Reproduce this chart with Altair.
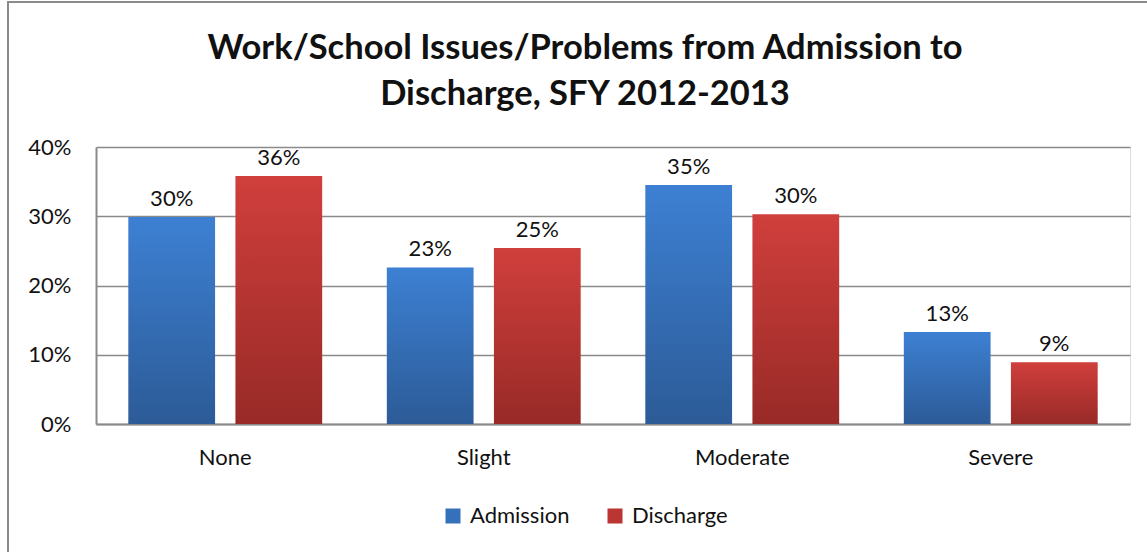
import altair as alt
import pandas as pd

categories = ["None", "Slight", "Moderate", "Severe"]
series = ["Admission", "Discharge"]
admission = [0.299, 0.226, 0.345, 0.133]
discharge = [0.358, 0.254, 0.303, 0.089]

rows = []
for c, a, d in zip(categories, admission, discharge):
    rows.append({"cat": c, "series": "Admission", "value": a})
    rows.append({"cat": c, "series": "Discharge", "value": d})
df = pd.DataFrame(rows)

FONT = "Lato"
GRAY = "#8a8a8a"
FS = 22

blue_grad = alt.LinearGradient(
    gradient="linear", x1=0, x2=0, y1=0, y2=1,
    stops=[alt.GradientStop(color="#3d80d3", offset=0),
           alt.GradientStop(color="#2c5b97", offset=1)])
red_grad = alt.LinearGradient(
    gradient="linear", x1=0, x2=0, y1=0, y2=1,
    stops=[alt.GradientStop(color="#d03f3c", offset=0),
           alt.GradientStop(color="#982a27", offset=1)])

x_enc = alt.X("cat:N", sort=categories, title=None,
              scale=alt.Scale(paddingInner=0.25, paddingOuter=0.125),
              axis=alt.Axis(labelAngle=0, labelFontSize=FS, labelFont=FONT,
                            labelColor="#111", labelPadding=23, ticks=False,
                            domainColor=GRAY, domainWidth=2))
xo_enc = alt.XOffset("series:N", scale=alt.Scale(domain=series, paddingInner=0.19, paddingOuter=0))
y_enc = alt.Y("value:Q", title=None,
              scale=alt.Scale(domain=[0, 0.4], nice=False),
              axis=alt.Axis(format=".0%", values=[0, 0.1, 0.2, 0.3, 0.4],
                            labelFontSize=FS, labelFont=FONT, labelColor="#111",
                            labelPadding=25, ticks=False, grid=True,
                            gridColor=GRAY, gridWidth=1.5,
                            domainColor=GRAY, domainWidth=2))

base = alt.Chart(df)

bars_a = base.transform_filter(alt.datum.series == "Admission").mark_bar(fill=blue_grad).encode(
    x=x_enc, xOffset=xo_enc, y=y_enc)
bars_d = base.transform_filter(alt.datum.series == "Discharge").mark_bar(fill=red_grad).encode(
    x=x_enc, xOffset=xo_enc, y=y_enc)

labels = base.mark_text(dy=-18, fontSize=FS, font=FONT, color="#111").encode(
    x=x_enc, xOffset=xo_enc, y=y_enc,
    text=alt.Text("value:Q", format=".0%"))

legend_layer = base.mark_square(opacity=0).encode(
    x=x_enc, xOffset=xo_enc, y=y_enc,
    color=alt.Color("series:N", sort=series,
                    scale=alt.Scale(domain=series, range=["#3570ba", "#bb3532"]),
                    legend=alt.Legend(title=None, orient="none", direction="horizontal",
                                      legendX=346, legendY=358, symbolType="square",
                                      symbolSize=225, symbolOpacity=1, symbolStrokeWidth=0,
                                      labelFontSize=FS, labelFont=FONT, labelColor="#111",
                                      labelOffset=6, columnPadding=34, padding=0)))

one = alt.Chart(pd.DataFrame({"k": [0]}))
border_left = one.mark_rule(stroke=GRAY, strokeWidth=2).encode(
    x=alt.value(-88), y=alt.value(-145), y2=alt.value(600))
border_top = one.mark_rule(stroke=GRAY, strokeWidth=2).encode(
    x=alt.value(-89), x2=alt.value(1200), y=alt.value(-145))

chart = alt.layer(border_left, border_top, bars_a, bars_d, labels, legend_layer).properties(
    width=1034, height=277,
    title=alt.TitleParams(
        text=["Work/School Issues/Problems from Admission to", "Discharge, SFY 2012-2013"],
        fontSize=34.5, font=FONT, fontWeight="bold", color="#111",
        lineHeight=46, anchor="middle", frame="group", dx=-28, dy=151, offset=40),
    autosize=alt.AutoSizeParams(type="none"),
    padding={"left": 96, "top": 147, "right": 17, "bottom": 128},
).configure_view(stroke=None).configure(background="white")

chart.save("out.html", embed_options={"renderer": "svg", "actions": False})
